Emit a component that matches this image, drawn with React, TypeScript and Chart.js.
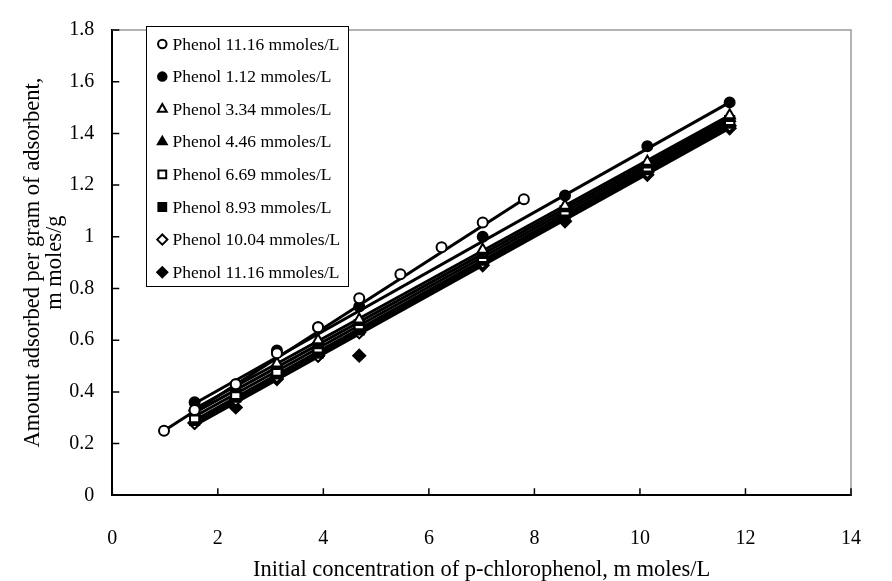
import React, { useEffect, useRef } from "react";
import { Chart, registerables } from "chart.js";
import { drawPoint } from "chart.js/helpers";

Chart.register(...registerables);

// ---------- data ----------
const SERIES_LABELS = [
  "Phenol 11.16 mmoles/L",
  "Phenol 1.12 mmoles/L",
  "Phenol 3.34 mmoles/L",
  "Phenol 4.46 mmoles/L",
  "Phenol 6.69 mmoles/L",
  "Phenol 8.93 mmoles/L",
  "Phenol 10.04 mmoles/L",
  "Phenol 11.16 mmoles/L",
];

const X_S1 = [0.98, 1.56, 2.34, 3.12, 3.9, 4.68, 5.46, 6.24, 7.02, 7.8];
const Y_S1 = [0.25, 0.33, 0.43, 0.55, 0.65, 0.762, 0.855, 0.96, 1.055, 1.145];

const X_COMMON = [1.56, 2.34, 3.12, 3.9, 4.68, 7.02, 8.58, 10.14, 11.7];
const Y_S2 = [0.36, 0.43, 0.56, 0.65, 0.73, 1.0, 1.16, 1.35, 1.52];
const Y_S3 = [0.34, 0.42, 0.51, 0.6, 0.68, 0.95, 1.12, 1.29, 1.47];
const Y_S4 = [0.32, 0.41, 0.5, 0.58, 0.67, 0.93, 1.11, 1.28, 1.46];
const Y_S5 = [0.3, 0.39, 0.48, 0.57, 0.66, 0.92, 1.1, 1.27, 1.45];
const Y_S6 = [0.29, 0.38, 0.47, 0.55, 0.64, 0.91, 1.08, 1.26, 1.44];
const Y_S7 = [0.28, 0.37, 0.46, 0.54, 0.63, 0.9, 1.08, 1.25, 1.43];
const Y_S8 = [0.28, 0.34, 0.45, 0.54, 0.54, 0.89, 1.06, 1.24, 1.42];

// trend lines: x start/end and y start/end per series
const TREND_X_START = [0.98, 1.56, 1.56, 1.56, 1.56, 1.56, 1.56, 1.56];
const TREND_X_END = [7.8, 11.7, 11.7, 11.7, 11.7, 11.7, 11.7, 11.7];
const TREND_Y_START = [0.25, 0.355, 0.335, 0.32, 0.305, 0.29, 0.28, 0.27];
const TREND_Y_END = [1.145, 1.52, 1.47, 1.46, 1.45, 1.44, 1.43, 1.42];

const X_TICK_MIN = 0;
const X_TICK_MAX = 14;
const X_TICK_STEP = 2;
const Y_TICK_MIN = 0;
const Y_TICK_MAX = 1.8;
const Y_TICK_STEP = 0.2;

const X_TITLE = "Initial concentration of p-chlorophenol, m moles/L";
const Y_TITLE = ["Amount adsorbed per gram of adsorbent,", "m moles/g"];

// ---------- styles ----------
const POINT_STYLES = ["circle", "circle", "triangle", "triangle", "rect", "rect", "rectRot", "rectRot"];
const FILLED = [false, true, false, true, false, true, false, true];
const POINT_RADII = [5, 5, 6, 6, 6.5, 6.5, 6, 6];
const FONT = "'Liberation Serif', 'Times New Roman', serif";

const SERIES_X = [X_S1, X_COMMON, X_COMMON, X_COMMON, X_COMMON, X_COMMON, X_COMMON, X_COMMON];
const SERIES_Y = [Y_S1, Y_S2, Y_S3, Y_S4, Y_S5, Y_S6, Y_S7, Y_S8];

const PLOT_LEFT = 112.3;
const PLOT_TOP = 19.5;
const PLOT_RIGHT = 878;
const PLOT_BOTTOM = 495.3;
const W = 892;
const H = 581;

const decorPlugin = {
  id: "decor",
  afterDraw(chart: any) {
    const { ctx, chartArea, scales } = chart;
    const xs = scales.x;
    const ys = scales.y;
    ctx.save();
    // gray top & right border
    ctx.strokeStyle = "#9a9a9a";
    ctx.lineWidth = 1.5;
    ctx.beginPath();
    ctx.moveTo(chartArea.left, chartArea.top);
    ctx.lineTo(chartArea.right, chartArea.top);
    ctx.lineTo(chartArea.right, chartArea.bottom);
    ctx.stroke();
    // inward tick marks
    ctx.strokeStyle = "#000";
    ctx.lineWidth = 1.5;
    ctx.beginPath();
    xs.ticks.forEach((t: any) => {
      const px = xs.getPixelForValue(t.value);
      ctx.moveTo(px, chartArea.bottom);
      ctx.lineTo(px, chartArea.bottom - 7);
    });
    ys.ticks.forEach((t: any) => {
      const py = ys.getPixelForValue(t.value);
      ctx.moveTo(chartArea.left, py);
      ctx.lineTo(chartArea.left + 7, py);
    });
    ctx.stroke();

    // legend
    const bx = 146, by = 26, bw = 202, bh = 260;
    ctx.fillStyle = "#fff";
    ctx.fillRect(bx, by, bw, bh);
    ctx.strokeStyle = "#000";
    ctx.lineWidth = 1;
    ctx.strokeRect(bx + 0.5, by + 0.5, bw, bh);
    ctx.font = `17.5px ${FONT}`;
    ctx.textBaseline = "middle";
    ctx.textAlign = "left";
    SERIES_LABELS.forEach((label, i) => {
      const ry = 44 + i * 32.6;
      ctx.fillStyle = FILLED[i] ? "#000" : "#fff";
      ctx.strokeStyle = "#000";
      ctx.lineWidth = 2;
      drawPoint(ctx, { pointStyle: POINT_STYLES[i], radius: POINT_RADII[i] * 0.85, rotation: 0, borderWidth: 2 } as any, 162.3, ry);
      ctx.fillStyle = "#000";
      ctx.fillText(label, 172.5, ry + 1);
    });
    ctx.restore();
  },
};

export default function App() {
  const ref = useRef<HTMLCanvasElement | null>(null);

  useEffect(() => {
    if (!ref.current) return;
    Chart.defaults.font.family = FONT;
    Chart.defaults.color = "#000";

    const lineSets = SERIES_LABELS.map((label, i) => ({
      label: label + " trend",
      data: [
        { x: TREND_X_START[i], y: TREND_Y_START[i] },
        { x: TREND_X_END[i], y: TREND_Y_END[i] },
      ],
      showLine: true,
      borderColor: "#000",
      borderWidth: 3,
      pointRadius: 0,
      order: 2,
    }));
    const pointSets = SERIES_LABELS.map((label, i) => ({
      label,
      data: SERIES_X[i].map((x, j) => ({ x, y: SERIES_Y[i][j] })),
      showLine: false,
      pointStyle: POINT_STYLES[i],
      pointRadius: POINT_RADII[i],
      pointBackgroundColor: FILLED[i] ? "#000" : "#fff",
      pointBorderColor: "#000",
      pointBorderWidth: 2,
      order: 1,
    }));

    const chart = new Chart(ref.current, {
      type: "scatter",
      data: { datasets: [...lineSets, ...pointSets] as any },
      options: {
        responsive: false,
        animation: false,
        events: [],
        layout: { padding: { top: PLOT_TOP, right: W - PLOT_RIGHT, left: 0, bottom: 0 } },
        plugins: { legend: { display: false }, tooltip: { enabled: false } },
        scales: {
          x: {
            type: "linear",
            min: X_TICK_MIN,
            max: X_TICK_MAX,
            grid: { display: false, drawTicks: false },
            border: { display: true, color: "#000", width: 2 },
            ticks: { stepSize: X_TICK_STEP, padding: 31, font: { size: 20 }, color: "#000" },
            title: {
              display: true,
              text: X_TITLE,
              font: { size: 22.5, lineHeight: 1.0 },
              color: "#000",
              padding: { top: 0, bottom: 0 },
            },
            afterFit: (s: any) => {
              s.height = H - PLOT_BOTTOM;
            },
          },
          y: {
            type: "linear",
            min: Y_TICK_MIN,
            max: Y_TICK_MAX,
            grid: { display: false, drawTicks: false },
            border: { display: true, color: "#000", width: 2 },
            ticks: {
              stepSize: Y_TICK_STEP,
              padding: 18,
              font: { size: 20 },
              color: "#000",
              callback: (v: any) => String(Math.round(Number(v) * 10) / 10),
            },
            title: {
              display: true,
              text: Y_TITLE,
              font: { size: 22.5, lineHeight: 0.97 },
              color: "#000",
              padding: { top: 22, bottom: 0 },
            },
            afterFit: (s: any) => {
              s.width = PLOT_LEFT;
            },
          },
        },
      } as any,
      plugins: [decorPlugin],
    });
    return () => chart.destroy();
  }, []);

  return (
    <div style={{ position: "fixed", left: 0, top: 0, width: W, height: H, background: "#fff" }}>
      <canvas ref={ref} width={W} height={H} style={{ display: "block" }} />
    </div>
  );
}
